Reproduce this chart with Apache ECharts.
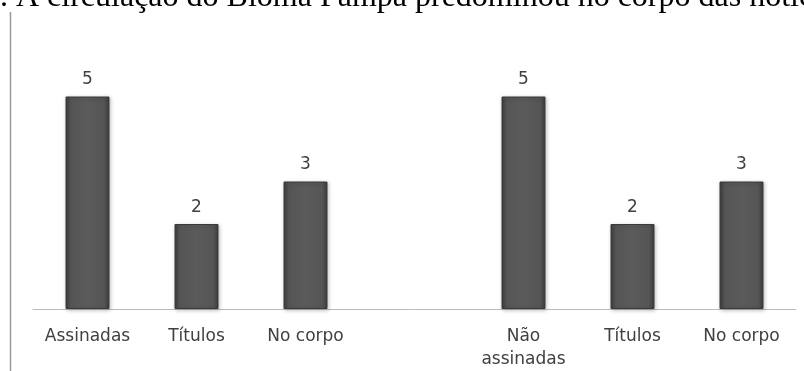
<!DOCTYPE html>
<html>
<head>
<meta charset="utf-8">
<script src="https://cdn.jsdelivr.net/npm/echarts@6/dist/echarts.min.js"></script>
<style>
  html, body { margin: 0; padding: 0; background: #fff; }
  #chart { width: 804px; height: 371px; }
</style>
</head>
<body>
<div id="chart"></div>
<script>
// categorias (a 4a fica vazia para separar os dois grupos)
const categories = ['Assinadas', 'Títulos', 'No corpo', '', 'Não\nassinadas', 'Títulos', 'No corpo']
// quantidade de notícias
const values = [5, 2, 3, '-', 5, 2, 3]
const headline = '. A circulação do Bioma Pampa predominou no corpo das notícias'

const chart = echarts.init(document.getElementById('chart'))

const option = {
  animation: false,
  grid: {
    left: 33,
    right: 8,
    top: 54,
    bottom: 60.5,
    containLabel: false
  },
  xAxis: {
    type: 'category',
    data: categories,
    axisTick: { show: false },
    axisLine: {
      lineStyle: { color: '#bcbcbc', width: 1 }
    },
    axisLabel: {
      interval: 0,
      margin: 16,
      color: '#404040',
      fontFamily: 'DejaVu Sans',
      fontSize: 17,
      lineHeight: 23
    }
  },
  yAxis: {
    type: 'value',
    min: 0,
    max: 6,
    show: false,
    splitLine: { show: false }
  },
  series: [
    {
      type: 'bar',
      data: values,
      barWidth: 44,
      itemStyle: {
        // sombreado lateral das barras
        color: new echarts.graphic.LinearGradient(0, 0, 1, 0, [
          { offset: 0, color: '#3c3c3c' },
          { offset: 0.12, color: '#555555' },
          { offset: 0.5, color: '#5b5b5b' },
          { offset: 0.88, color: '#555555' },
          { offset: 1, color: '#3c3c3c' }
        ]),
        borderColor: '#3a3a3a',
        borderWidth: 1,
        shadowColor: 'rgba(0,0,0,0.25)',
        shadowBlur: 4,
        shadowOffsetX: 1,
        shadowOffsetY: 1
      },
      label: {
        show: true,
        position: 'top',
        distance: 8,
        color: '#404040',
        fontFamily: 'DejaVu Sans',
        fontSize: 17
      }
    }
  ],
  graphic: [
    {
      type: 'text',
      left: 0,
      top: -18,
      style: {
        text: headline,
        font: '32px "Liberation Serif"',
        fill: '#000'
      }
    },
    {
      type: 'line',
      shape: { x1: 10.5, y1: 12, x2: 10.5, y2: 371 },
      style: { stroke: '#9a9a9a', lineWidth: 1.5 }
    }
  ]
}

chart.setOption(option)
</script>
</body>
</html>
